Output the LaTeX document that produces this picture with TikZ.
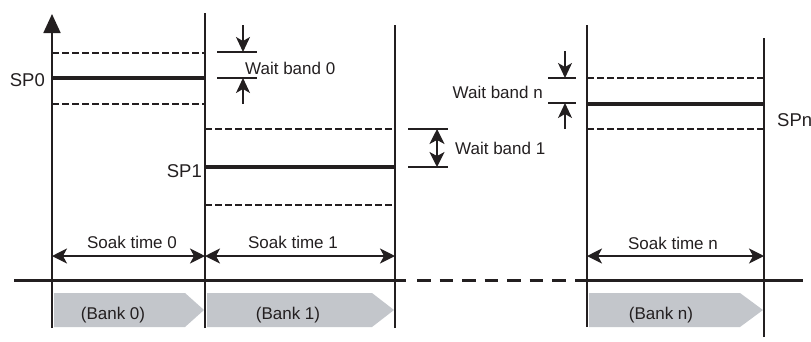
\documentclass[tikz,border=0pt]{standalone}
\usepackage{fontspec}
\setmainfont{Liberation Sans}
\usetikzlibrary{positioning, arrows.meta, calc}
\definecolor{bankgray}{RGB}{195,198,203}
\definecolor{ink}{RGB}{35,31,32}

\begin{document}
\begin{tikzpicture}[
  x=1pt, y=-1pt, color=ink,
  font=\fontsize{17}{20}\selectfont,
  lbl/.style={inner sep=0pt},
  splbl/.style={inner sep=0pt, font=\fontsize{18.5}{21}\selectfont},
  mark line/.style={line width=1.8pt},
  setline/.style={line width=3.3pt},
  band/.style={line width=1.2pt, dash pattern=on 6.5pt off 3.5pt},
  tickline/.style={line width=1.3pt},
  timeline/.style={line width=3pt},
  span/.style={{Stealth[length=15pt, width=15pt, inset=4pt]}-{Stealth[length=15pt, width=15pt, inset=4pt]},
    line width=1.4pt},
  pin/.style={-{Stealth[length=15pt, width=14pt, inset=4pt]}, line width=1.4pt},
]
  \useasboundingbox (0,0) rectangle (811,341);

  % time marks
  \coordinate (m0b) at (52,328);  \coordinate (m0t) at (52,14);
  \coordinate (m1b) at (205,328); \coordinate (m1t) at (205,13);
  \coordinate (m2b) at (395,328); \coordinate (m2t) at (395,25);
  \coordinate (mnb) at (587,327); \coordinate (mnt) at (587,25);
  \coordinate (mmb) at (764,337); \coordinate (mmt) at (764,38);

  % bank arrows
  \foreach \xa/\xb/\xc in {54/185/204, 207/372/394, 589/740/763}
    \fill[bankgray] (\xa,293) -- (\xb,293) -- (\xc,310) -- (\xb,327)
      -- (\xa,327) -- cycle;
  \node[lbl] (bank0) at (113,315) {(Bank 0)};
  \node[lbl] (bank1) at (288,315) {(Bank 1)};
  \node[lbl] (bankn) at (661,315) {(Bank n)};

  \draw[mark line, -{Triangle[length=19pt, width=17pt]}] (m0b) -- (m0t);
  \draw[mark line] (m1b) -- (m1t);
  \draw[mark line] (m2b) -- (m2t);
  \draw[mark line] (mnb) -- (mnt);
  \draw[mark line] (mmb) -- (mmt);

  % time axis
  \coordinate (ax0) at (14,280);  \coordinate (ax1) at (406,280);
  \coordinate (ax2) at (417,280); \coordinate (ax3) at (571,280);
  \coordinate (ax4) at (575,280); \coordinate (ax5) at (803,280);
  \draw[timeline] (ax0) -- (ax1);
  \draw[timeline, dash pattern=on 13.5pt off 9pt] (ax2) -- (ax3);
  \draw[timeline] (ax4) -- (ax5);

  % set points and wait bands
  \draw[band] (52,53) -- (205,53);
  \draw[setline] (52,78) -- (205,78);
  \draw[band] (52,104) -- (205,104);
  \draw[band] (205,129) -- (395,129);
  \draw[setline] (205,167) -- (395,167);
  \draw[band] (205,205) -- (395,205);
  \draw[band] (587,78) -- (764,78);
  \draw[setline] (587,104) -- (764,104);
  \draw[band] (587,129) -- (764,129);

  \node[splbl, anchor=east] (sp0) at (45,80) {SP0};
  \node[splbl, anchor=east] (sp1) at (202,171) {SP1};
  \node[splbl, anchor=west] (spn) at (777,120) {SPn};

  % wait band 0
  \draw[tickline] (217,52) -- (257,52);
  \draw[tickline] (217,78) -- (257,78);
  \draw[pin] (243,25) -- (243,52);
  \draw[pin] (243,104) -- (243,78);
  \node[lbl, anchor=west] (wb0) at (245,68) {Wait band 0};

  % wait band 1
  \draw[tickline] (408,129) -- (448,129);
  \draw[tickline] (408,167) -- (448,167);
  \draw[span] (437,129) -- (437,167);
  \node[lbl, anchor=west] (wb1) at (455,148) {Wait band 1};

  % wait band n
  \draw[tickline] (548,78) -- (576,78);
  \draw[tickline] (548,103) -- (576,103);
  \draw[pin] (565,51) -- (565,78);
  \draw[pin] (565,129) -- (565,103);
  \node[lbl, anchor=east] (wbn) at (543,92) {Wait band n};

  % soak times
  \draw[span] (52,256) -- (205,256);
  \draw[span] (205,256) -- (395,256);
  \draw[span] (587,256) -- (764,256);
  \node[lbl] (soak0) at (132,242) {Soak time 0};
  \node[lbl] (soak1) at (293,242) {Soak time 1};
  \node[lbl] (soakn) at (673,243) {Soak time n};
\end{tikzpicture}
\end{document}
